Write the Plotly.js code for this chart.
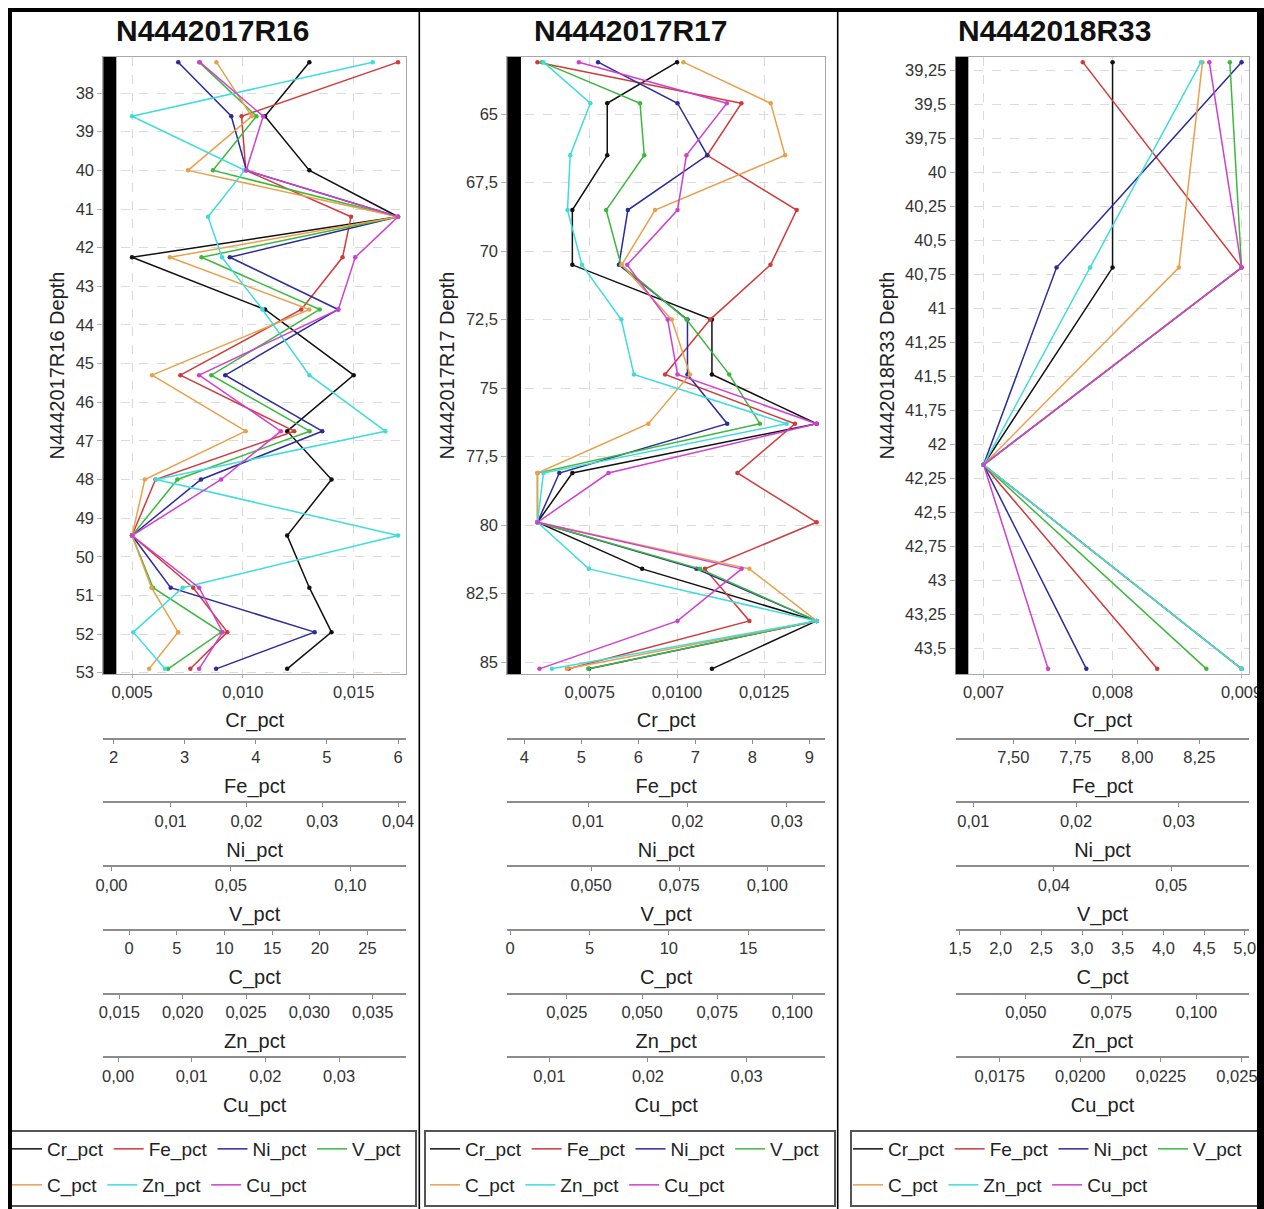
<!DOCTYPE html>
<html>
<head>
<meta charset="utf-8">
<script src="https://cdn.plot.ly/plotly-3.0.1.min.js"></script>
<style>
html,body{margin:0;padding:0;background:#ffffff;}
#chart{width:1264px;height:1209px;}
</style>
</head>
<body>
<div id="chart"></div>
<script>
// ---------- data ----------
const elements = ['Cr_pct', 'Fe_pct', 'Ni_pct', 'V_pct', 'C_pct', 'Zn_pct', 'Cu_pct'];
const wells = ['N4442017R16', 'N4442017R17', 'N4442018R33'];

const depth_R16 = [37.2, 38.6, 40.0, 41.2, 42.25, 43.6, 45.3, 46.75, 48.0, 49.45, 50.8, 51.95, 52.9];
const Cr_R16 = [0.013, 0.011, 0.013, 0.017, 0.005, 0.011, 0.015, 0.012, 0.014, 0.012, 0.013, 0.014, 0.012];
const Fe_R16 = [6.0, 3.80, 3.86, 5.34, 5.22, 4.64, 2.94, 4.54, 2.59, 2.26, 3.12, 3.60, 3.08];
const Ni_R16 = [0.011, 0.018, 0.020, 0.040, 0.0178, 0.0321, 0.0172, 0.030, 0.014, 0.0049, 0.010, 0.029, 0.016];
const V_R16 = [0.0367, 0.0607, 0.0425, 0.120, 0.0377, 0.0872, 0.0418, 0.083, 0.0276, 0.0086, 0.0174, 0.046, 0.0237];
const C_R16 = [9.16, 12.86, 6.18, 28.2, 4.27, 18.9, 2.41, 12.23, 1.65, 0.31, 2.35, 5.14, 2.10];
const Zn_R16 = [0.035, 0.016, 0.0249, 0.022, 0.0231, 0.0263, 0.030, 0.036, 0.0179, 0.037, 0.020, 0.0161, 0.0186];
const Cu_R16 = [0.0111, 0.0197, 0.0174, 0.038, 0.0322, 0.0299, 0.011, 0.0221, 0.014, 0.0019, 0.011, 0.0142, 0.011];

const depth_R17 = [63.1, 64.6, 66.5, 68.5, 70.5, 72.5, 74.5, 76.3, 78.1, 79.9, 81.6, 83.5, 85.25];
const Cr_R17 = [0.010, 0.008, 0.008, 0.007, 0.007, 0.011, 0.011, 0.014, 0.007, 0.006, 0.009, 0.014, 0.011];
const Fe_R17 = [4.23, 7.81, 7.21, 8.78, 8.32, 7.26, 6.47, 8.75, 7.74, 9.13, 7.17, 7.95, 4.78];
const Ni_R17 = [0.011, 0.019, 0.022, 0.014, 0.0131, 0.020, 0.020, 0.024, 0.0071, 0.0049, 0.0209, 0.033, 0.0101];
const V_R17 = [0.0361, 0.0639, 0.0651, 0.0543, 0.0585, 0.0771, 0.0892, 0.0979, 0.0348, 0.0348, 0.0809, 0.114, 0.0492];
const C_R17 = [10.91, 16.42, 17.32, 9.13, 7.03, 10.18, 11.33, 8.71, 1.72, 1.72, 15.07, 19.31, 3.57];
const Zn_R17 = [0.0172, 0.0328, 0.0261, 0.0252, 0.030, 0.0431, 0.0473, 0.0981, 0.0172, 0.0152, 0.0323, 0.1081, 0.020];
const Cu_R17 = [0.013, 0.028, 0.0239, 0.023, 0.0179, 0.022, 0.023, 0.0371, 0.016, 0.0088, 0.0295, 0.023, 0.009];

const depth_R33 = [39.19, 40.7, 42.15, 43.65];
const Cr_R33 = [0.008, 0.008, 0.007, 0.009];
const Fe_R33 = [7.78, 8.42, 7.38, 8.08];
const Ni_R33 = [0.0361, 0.0181, 0.011, 0.021];
const V_R33 = [0.055, 0.056, 0.034, 0.053];
const C_R33 = [4.48, 4.19, 1.79, 4.96];
const Zn_R33 = [0.1013, 0.0688, 0.0376, 0.1132];
const Cu_R33 = [0.0240, 0.0250, 0.0170, 0.0190];

// ---------- layout helpers ----------
const W = 1264, H = 1209;
const px = x => x / W;
const py = y => 1 - y / H;
const FONT = 'Arial, "Liberation Sans", sans-serif';
const colors = ['#111111', '#d13a3a', '#2b2b9c', '#3db83d', '#e9a04a', '#3fdcdc', '#d03fd0'];

const panels = [
  { name: wells[0], depth: depth_R16, series: [Cr_R16, Fe_R16, Ni_R16, V_R16, C_R16, Zn_R16, Cu_R16],
    dom: [103.3, 406], fmt: ['.3f', 'd', '.2f', '.2f', 'd', '.3f', '.2f'],
    dt: [0.005, 1, 0.01, 0.05, 5, 0.005, 0.01], ydt: 1, legx: 12, center: 213 },
  { name: wells[1], depth: depth_R17, series: [Cr_R17, Fe_R17, Ni_R17, V_R17, C_R17, Zn_R17, Cu_R17],
    dom: [507.3, 825], fmt: ['.4f', 'd', '.2f', '.3f', 'd', '.3f', '.2f'],
    dt: [0.0025, 1, 0.01, 0.025, 5, 0.025, 0.01], ydt: 2.5, legx: 430, center: 630.5 },
  { name: wells[2], depth: depth_R33, series: [Cr_R33, Fe_R33, Ni_R33, V_R33, C_R33, Zn_R33, Cu_R33],
    dom: [955.7, 1249.3], fmt: ['.3f', '.2f', '.2f', '.2f', '.1f', '.3f', '.4f'],
    dt: [0.001, 0.25, 0.01, 0.01, 0.5, 0.025, 0.0025], ydt: 0.25, legx: 853, center: 1055 }
];

const subPos = [738.5, 802, 866, 929.5, 993.5, 1057];
const plotTop = 57, plotBottom = 674;

const layout = {
  width: W, height: H,
  margin: { l: 0, r: 0, t: 0, b: 0, pad: 0 },
  paper_bgcolor: '#ffffff', plot_bgcolor: '#ffffff',
  separators: ', ',
  font: { family: FONT, size: 16, color: '#333333' },
  showlegend: true,
  annotations: [], shapes: []
};
const traces = [];

panels.forEach((p, pi) => {
  const yid = pi === 0 ? 'y' : 'y' + (pi + 1);
  const yKey = pi === 0 ? 'yaxis' : 'yaxis' + (pi + 1);
  const baseN = pi * 7 + 1;
  const baseId = baseN === 1 ? 'x' : 'x' + baseN;

  const dmin = Math.min(...p.depth), dmax = Math.max(...p.depth);
  const dpad = (dmax - dmin) * 0.0085;
  layout[yKey] = {
    domain: [py(plotBottom), py(plotTop)],
    anchor: baseId,
    range: [dmax + dpad, dmin - dpad],
    dtick: p.ydt, tick0: 0,
    showgrid: true, gridcolor: '#dadada', griddash: 'dash', gridwidth: 1,
    zeroline: false,
    showline: true, mirror: true, linecolor: '#a8a8a8', linewidth: 1,
    ticks: 'outside', ticklen: 5, tickcolor: '#b0b0b0',
    tickfont: { size: 16.5, color: '#333333', family: FONT },
    title: { text: p.name + ' Depth', font: { size: 20, color: '#222222', family: FONT }, standoff: 5 }
  };

  // axes
  p.series.forEach((vals, ei) => {
    const n = baseN + ei;
    const key = n === 1 ? 'xaxis' : 'xaxis' + n;
    const vmin = Math.min(...vals), vmax = Math.max(...vals);
    const span = vmax - vmin;
    const ax = {
      range: [vmin - 0.108 * span, vmax + 0.03 * span],
      dtick: p.dt[ei], tick0: 0,
      tickformat: p.fmt[ei],
      zeroline: false,
      ticklabeloverflow: 'allow',
      tickfont: { size: 16.5, color: '#333333', family: FONT },
      title: { text: elements[ei], font: { size: 20, color: '#222222', family: FONT }, standoff: 13 }
    };
    if (ei === 0) {
      Object.assign(ax, {
        domain: [px(p.dom[0]), px(p.dom[1])],
        anchor: yid,
        showgrid: true, gridcolor: '#dadada', griddash: 'dash', gridwidth: 1,
        showline: true, mirror: true, linecolor: '#a8a8a8', linewidth: 1,
        ticks: 'outside', ticklen: 3, tickcolor: '#b0b0b0'
      });
    } else {
      Object.assign(ax, {
        overlaying: baseId,
        anchor: 'free',
        position: py(subPos[ei - 1]),
        side: 'bottom',
        showgrid: false,
        showline: true, linecolor: '#8c8c8c', linewidth: 2,
        ticks: 'outside', ticklen: 4, tickcolor: '#8c8c8c'
      });
    }
    layout[key] = ax;
  });

  // traces (legend order kept by legendrank)
  for (let ei = p.series.length - 1; ei >= 0; ei--) {
    const vals = p.series[ei];
    const n = baseN + ei;
    const id = n === 1 ? 'x' : 'x' + n;
    const row = ei < 4 ? 0 : 1;
    const legIdx = pi + 1 + row * 3;
    const legId = legIdx === 1 ? 'legend' : 'legend' + legIdx;
    traces.push({
      type: 'scatter', mode: 'lines', x: vals, y: p.depth,
      xaxis: id, yaxis: yid, name: elements[ei],
      line: { color: colors[ei], width: 1.5 },
      legend: legId, legendrank: ei + 1, showlegend: true, hoverinfo: 'skip'
    });
    traces.push({
      type: 'scatter', mode: 'markers', x: vals, y: p.depth,
      xaxis: id, yaxis: yid, name: elements[ei],
      marker: { color: colors[ei], size: 4.5 },
      showlegend: false, hoverinfo: 'skip'
    });
  }

  // legends (two rows per panel)
  [0, 1].forEach(row => {
    const legIdx = pi + 1 + row * 3;
    const legKey = legIdx === 1 ? 'legend' : 'legend' + legIdx;
    layout[legKey] = {
      orientation: 'h',
      x: px(p.legx - 5), xanchor: 'left',
      y: py(row === 0 ? 1149 : 1185), yanchor: 'middle',
      font: { size: 19, color: '#222222', family: FONT },
      bgcolor: 'rgba(0,0,0,0)', borderwidth: 0,
      itemwidth: 30, traceorder: 'normal'
    };
  });

  // panel title
  layout.annotations.push({
    text: '<b>' + p.name + '</b>', xref: 'paper', yref: 'paper',
    x: px(p.center), y: py(30), xanchor: 'center', yanchor: 'middle',
    showarrow: false, font: { size: 30, color: '#111111', family: FONT }
  });

  // black core column at the left of the plot area
  layout.shapes.push({
    type: 'rect', xref: baseId + ' domain', yref: yid + ' domain',
    x0: 0, x1: 0.043, y0: 0, y1: 1,
    fillcolor: '#000000', line: { width: 0 }, layer: 'above'
  });
});

// panel frames and legend boxes
const frameLines = [
  [8, 10, 1264, 10, 4],
  [10, 8, 10, 1209, 4],
  [419.3, 8, 419.3, 1209, 1.6],
  [837.7, 8, 837.7, 1209, 1.6],
  [1260.5, 8, 1260.5, 1209, 7]
];
frameLines.forEach(f => layout.shapes.push({
  type: 'line', xref: 'paper', yref: 'paper',
  x0: px(f[0]), y0: py(f[1]), x1: px(f[2]), y1: py(f[3]),
  line: { color: '#000000', width: f[4] }, layer: 'above'
}));
const legBoxes = [[11, 1131, 416, 1206], [425, 1131, 835, 1206], [851, 1131, 1262, 1206]];
legBoxes.forEach(b => layout.shapes.push({
  type: 'rect', xref: 'paper', yref: 'paper',
  x0: px(b[0]), y0: py(b[3]), x1: px(b[2]), y1: py(b[1]),
  line: { color: '#555555', width: 2 }, fillcolor: 'rgba(0,0,0,0)', layer: 'below'
}));

Plotly.newPlot('chart', traces, layout, { displayModeBar: false, staticPlot: true });
</script>
</body>
</html>
